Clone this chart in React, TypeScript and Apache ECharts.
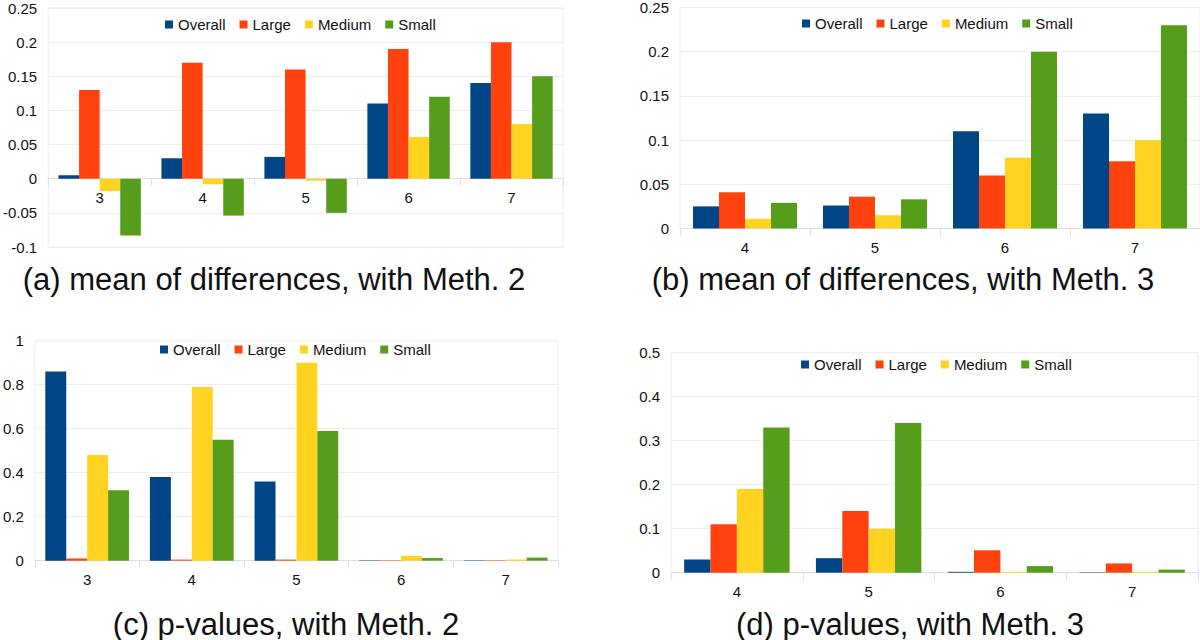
import React, { useEffect, useRef } from "react";
import * as echarts from "echarts";

const catsA = ["3", "4", "5", "6", "7"];
const overallA = [0.005, 0.03, 0.032, 0.11, 0.14];
const largeA = [0.13, 0.17, 0.16, 0.19, 0.2];
const mediumA = [-0.018, -0.008, -0.003, 0.061, 0.08];
const smallA = [-0.083, -0.054, -0.05, 0.12, 0.15];

const catsB = ["4", "5", "6", "7"];
const overallB = [0.025, 0.026, 0.11, 0.13];
const largeB = [0.041, 0.036, 0.06, 0.076];
const mediumB = [0.011, 0.015, 0.08, 0.1];
const smallB = [0.029, 0.033, 0.2, 0.23];

const catsC = ["3", "4", "5", "6", "7"];
const overallC = [0.86, 0.38, 0.36, 0.002, 0.002];
const largeC = [0.01, 0.005, 0.005, 0.002, 0.002];
const mediumC = [0.48, 0.79, 0.9, 0.022, 0.005];
const smallC = [0.32, 0.55, 0.59, 0.012, 0.014];

const catsD = ["4", "5", "6", "7"];
const overallD = [0.03, 0.033, 0.002, 0.001];
const largeD = [0.11, 0.14, 0.051, 0.021];
const mediumD = [0.19, 0.1, 0.002, 0.002];
const smallD = [0.33, 0.34, 0.015, 0.007];

const seriesNames = ["Overall", "Large", "Medium", "Small"];
const colors = ["#004586", "#ff420e", "#ffd320", "#579d1c"];

const titles = [
  "(a) mean of differences, with Meth. 2",
  "(b) mean of differences, with Meth. 3",
  "(c) p-values, with Meth. 2",
  "(d) p-values, with Meth. 3",
];

const FONT = "'Liberation Sans', Arial, Helvetica, sans-serif";

export default function App() {
  const ref = useRef<HTMLDivElement>(null);
  useEffect(() => {
    if (!ref.current) return;
    const chart = echarts.init(ref.current, undefined, { renderer: "svg" });

    const panels = [
      { cats: catsA, data: [overallA, largeA, mediumA, smallA], min: -0.1, max: 0.25, interval: 0.05,
        grid: { left: 47, width: 516, top: 8, height: 239 }, legend: { left: 165, top: 17 } },
      { cats: catsB, data: [overallB, largeB, mediumB, smallB], min: 0, max: 0.25, interval: 0.05,
        grid: { left: 680, width: 520, top: 7.5, height: 221 }, legend: { left: 802, top: 16 } },
      { cats: catsC, data: [overallC, largeC, mediumC, smallC], min: 0, max: 1, interval: 0.2,
        grid: { left: 30, width: 528, top: 340.7, height: 220 }, legend: { left: 160, top: 342 } },
      { cats: catsD, data: [overallD, largeD, mediumD, smallD], min: 0, max: 0.5, interval: 0.1,
        grid: { left: 671, width: 527, top: 352.7, height: 220 }, legend: { left: 801, top: 357 } },
    ];

    const grid = panels.map((p) => ({
      ...p.grid,
      show: true,
      borderColor: "#ececec",
      borderWidth: 1,
      backgroundColor: "transparent",
      containLabel: false,
    }));

    // place the category axis (line, ticks and labels) on the zero value
    const xAxis = panels.map((p, i) => ({
      type: "category",
      gridIndex: i,
      data: p.cats,
      position: "bottom",
      offset: -(p.grid.height * (0 - p.min)) / (p.max - p.min),
      axisLine: { show: true, onZero: false, lineStyle: { color: "#e0e0e0" } },
      axisTick: { show: true, length: 7, lineStyle: { color: "#e0e0e0" } },
      axisLabel: { color: "#111", fontSize: 15, fontFamily: FONT, margin: 11 },
      splitLine: { show: false },
    }));

    const yAxis = panels.map((p, i) => ({
      type: "value",
      gridIndex: i,
      min: p.min,
      max: p.max,
      interval: p.interval,
      axisLine: { show: false },
      axisTick: { show: false },
      axisLabel: { color: "#111", fontSize: 15, fontFamily: FONT, margin: 11 },
      splitLine: { show: true, lineStyle: { color: "#eeeeee", width: 1 } },
    }));

    const series: any[] = [];
    panels.forEach((p, i) => {
      p.data.forEach((vals, k) => {
        series.push({
          type: "bar",
          name: seriesNames[k],
          xAxisIndex: i,
          yAxisIndex: i,
          data: vals,
          barGap: "0%",
          barCategoryGap: "20%",
          itemStyle: { color: colors[k] },
        });
      });
    });

    const legend = panels.map((p) => ({
      data: seriesNames,
      left: p.legend.left,
      top: p.legend.top,
      padding: 0,
      itemWidth: 8,
      itemHeight: 8,
      itemGap: 14,
      icon: "rect",
      textStyle: { color: "#111", fontSize: 15, fontFamily: FONT },
    }));

    const titlePos = [
      { x: 274, y: 279 },
      { x: 903, y: 279 },
      { x: 286, y: 624 },
      { x: 910, y: 624 },
    ];

    const graphic = titles.map((t, i) => ({
      type: "text",
      x: titlePos[i].x,
      y: titlePos[i].y,
      style: {
        text: t,
        fill: "#111",
        font: `31px ${FONT}`,
        textAlign: "center",
        textVerticalAlign: "middle",
      },
    }));

    chart.setOption({
      animation: false,
      backgroundColor: "#ffffff",
      color: colors,
      grid,
      xAxis,
      yAxis,
      series,
      legend,
      graphic,
    });
    return () => chart.dispose();
  }, []);

  return (
    <div
      ref={ref}
      style={{ position: "absolute", left: 0, top: 0, width: 1200, height: 640, background: "#fff" }}
    />
  );
}
